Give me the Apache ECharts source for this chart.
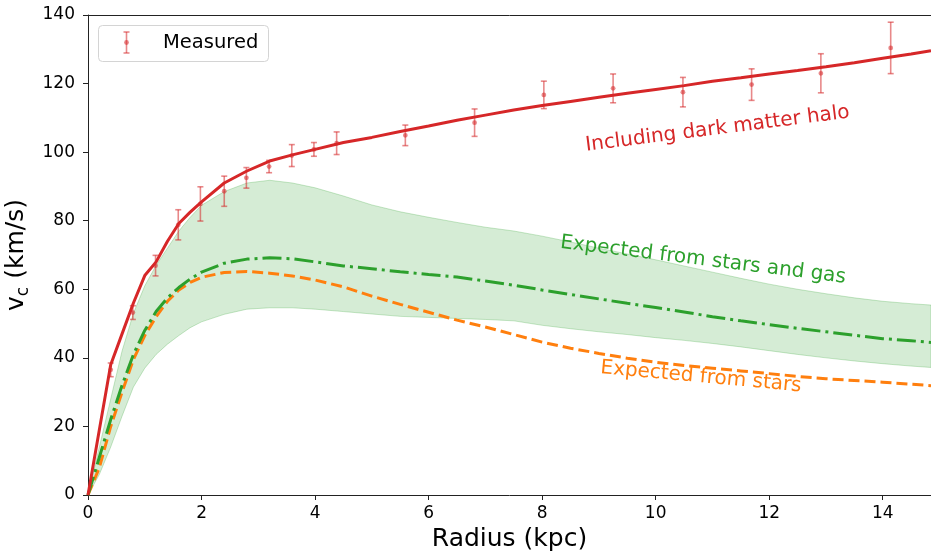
<!DOCTYPE html>
<html>
<head>
<meta charset="utf-8">
<script src="https://cdn.jsdelivr.net/npm/echarts@6/dist/echarts.min.js"></script>
<style>html,body{margin:0;padding:0;background:#fff;}#c{width:931px;height:556px;}</style>
</head>
<body>
<div id="c"></div>
<script>
// Radius grid (kpc) for model curves
var radius = [0, 0.2, 0.4, 0.6, 0.8, 1.0, 1.2, 1.4, 1.6, 1.8, 2.0, 2.4, 2.8, 3.2, 3.6, 4.0, 4.5, 5, 5.5, 6, 6.5, 7, 7.5, 8, 8.5, 9, 9.5, 10, 10.5, 11, 11.5, 12, 12.5, 13, 13.5, 14, 14.5, 14.85];
var vHalo = [0, 19, 38, 47, 56, 64, 68, 74, 79.2, 82.5, 85.5, 91, 94.5, 97.4, 99.2, 100.8, 102.8, 104.3, 106, 107.6, 109.3, 110.8, 112.3, 113.6, 114.8, 116, 117.2, 118.3, 119.4, 120.7, 121.7, 122.8, 123.8, 124.9, 126.1, 127.4, 128.6, 129.6];
var vStarsGas = [0, 11, 22, 32, 41, 48, 53.5, 57.5, 60.5, 63, 65, 67.6, 68.8, 69.2, 68.9, 68.0, 66.8, 66, 65.1, 64.3, 63.6, 62.4, 61.2, 59.8, 58.5, 57.2, 55.9, 54.7, 53.4, 52, 50.8, 49.7, 48.6, 47.6, 46.6, 45.6, 45, 44.5];
var vStars = [0, 8, 20, 30, 39.5, 46.5, 52, 56.5, 59.8, 62, 63.5, 64.9, 65.2, 64.7, 63.9, 62.7, 60.7, 58, 55.6, 53.3, 51, 49, 46.8, 44.6, 42.8, 41.3, 39.9, 38.7, 37.8, 37, 36.2, 35.4, 34.6, 33.9, 33.4, 32.9, 32.3, 31.9];
var bandUpper = [0, 14, 28, 42, 53, 61, 67, 72, 77, 81, 84.5, 88.5, 91, 91.8, 91, 89.6, 87.2, 84.6, 82.6, 81, 79.5, 78.1, 77, 75.5, 73.8, 72, 70.3, 68.6, 66.8, 65, 63.2, 61.5, 60, 58.7, 57.5, 56.5, 55.8, 55.4];
var bandLower = [0, 6, 14, 23, 31.5, 37, 41, 44, 46.5, 48.8, 50.5, 52.7, 54.2, 54.6, 54.6, 54.2, 53.5, 52.8, 52.1, 51.8, 51.5, 51.2, 50.8, 49.5, 48.5, 47.6, 46.8, 45.9, 45.1, 44.2, 43.2, 42.1, 41, 40, 39.1, 38.3, 37.6, 37.2];

// Measured points
var measR = [0.40, 0.79, 1.19, 1.59, 1.98, 2.40, 2.79, 3.19, 3.59, 3.98, 4.38, 5.59, 6.81, 8.03, 9.25, 10.48, 11.69, 12.91, 14.14];
var measV = [36.5, 53.2, 66.9, 78.8, 84.9, 88.6, 92.5, 95.8, 99.0, 100.8, 102.6, 104.9, 108.6, 116.7, 118.6, 117.5, 119.7, 123.0, 130.4];
var measErr = [2, 2, 3, 4.4, 5, 4.4, 3, 1.8, 3.2, 2, 3.3, 3, 4, 4, 4.2, 4.3, 4.6, 5.7, 7.5];

var xTicks = { min: 0, max: 14.85, interval: 2 };
var yTicks = { min: 0, max: 140, interval: 20 };

function pairs(xs, ys) { return xs.map(function (x, i) { return [x, ys[i]]; }); }

var FONT = 'DejaVu Sans';
var errColor = 'rgba(214,39,40,0.55)';

var chart = echarts.init(document.getElementById('c'), null, { renderer: 'canvas' });

var option = {
  animation: false,
  backgroundColor: '#fff',
  grid: { left: 88, right: 0, top: 15, bottom: 61, containLabel: false, outerBoundsMode: 'none' },
  xAxis: [{
    type: 'value', min: xTicks.min, max: xTicks.max, interval: xTicks.interval,
    name: 'Radius (kpc)', nameLocation: 'middle', nameGap: 31,
    nameTextStyle: { fontFamily: FONT, fontSize: 25, color: '#000' },
    axisLine: { show: true, onZero: false, lineStyle: { color: '#222', width: 1 } },
    axisTick: { show: true, inside: false, length: 5, lineStyle: { color: '#222' } },
    axisLabel: { fontFamily: FONT, fontSize: 17, color: '#000', margin: 10, showMaxLabel: false },
    splitLine: { show: false }
  }, {
    type: 'value', position: 'top', min: xTicks.min, max: xTicks.max, interval: xTicks.interval,
    axisLine: { show: true, onZero: false, lineStyle: { color: '#222', width: 1 } },
    axisTick: { show: false }, axisLabel: { show: false }, splitLine: { show: false }
  }],
  yAxis: [{
    type: 'value', min: yTicks.min, max: yTicks.max, interval: yTicks.interval,
    name: '{a|v}{b|c}{a| (km/s)}', nameLocation: 'middle', nameGap: 55, nameRotate: 90,
    nameTextStyle: {
      fontFamily: FONT, fontSize: 25, color: '#000',
      rich: {
        a: { fontFamily: FONT, fontSize: 25, color: '#000', lineHeight: 30, verticalAlign: 'middle' },
        b: { fontFamily: FONT, fontSize: 17, color: '#000', lineHeight: 18, verticalAlign: 'bottom' }
      }
    },
    axisLine: { show: true, onZero: false, lineStyle: { color: '#222', width: 1 } },
    axisTick: { show: true, inside: false, length: 5, lineStyle: { color: '#222' } },
    axisLabel: { fontFamily: FONT, fontSize: 17, color: '#000', margin: 13 },
    splitLine: { show: false }
  }, {
    type: 'value', position: 'right', min: yTicks.min, max: yTicks.max, interval: yTicks.interval,
    axisLine: { show: true, onZero: false, lineStyle: { color: '#222', width: 1 } },
    axisTick: { show: false }, axisLabel: { show: false }, splitLine: { show: false }
  }],
  series: [
    {
      name: 'band', type: 'custom', clip: true, z: 1,
      data: [[0, 0]],
      encode: { x: 0, y: 1 },
      renderItem: function (params, api) {
        var pts = [];
        for (var i = 0; i < radius.length; i++) pts.push(api.coord([radius[i], bandUpper[i]]));
        for (var j = radius.length - 1; j >= 0; j--) pts.push(api.coord([radius[j], bandLower[j]]));
        return {
          type: 'polygon',
          shape: { points: pts },
          style: { fill: 'rgba(44,160,44,0.2)', stroke: 'rgba(44,160,44,0.25)', lineWidth: 1 }
        };
      }
    },
    {
      name: 'Expected from stars', type: 'line', z: 3, showSymbol: false, smooth: false,
      data: pairs(radius, vStars),
      lineStyle: { color: '#ff7f0e', width: 3, type: [11, 5] }
    },
    {
      name: 'Expected from stars and gas', type: 'line', z: 3, showSymbol: false, smooth: false,
      data: pairs(radius, vStarsGas),
      lineStyle: { color: '#2ca02c', width: 3, type: [19, 5, 3, 5] }
    },
    {
      name: 'Measured', type: 'custom', z: 4, clip: false,
      data: measR.map(function (r, i) { return [r, measV[i], measErr[i]]; }),
      encode: { x: 0, y: 1 },
      renderItem: function (params, api) {
        var x = api.value(0), y = api.value(1), e = api.value(2);
        var top = api.coord([x, y + e]), bot = api.coord([x, y - e]), mid = api.coord([x, y]);
        var hw = 3;
        var ls = { stroke: errColor, lineWidth: 1.6 };
        return {
          type: 'group',
          children: [
            { type: 'line', shape: { x1: top[0], y1: top[1], x2: bot[0], y2: bot[1] }, style: ls },
            { type: 'line', shape: { x1: top[0] - hw, y1: top[1], x2: top[0] + hw, y2: top[1] }, style: ls },
            { type: 'line', shape: { x1: bot[0] - hw, y1: bot[1], x2: bot[0] + hw, y2: bot[1] }, style: ls },
            { type: 'circle', shape: { cx: mid[0], cy: mid[1], r: 2.4 }, style: { fill: errColor } }
          ]
        };
      }
    },
    {
      name: 'Including dark matter halo', type: 'line', z: 5, showSymbol: false, smooth: false,
      data: pairs(radius, vHalo),
      lineStyle: { color: '#d62728', width: 3 }
    }
  ],
  graphic: [
    { type: 'rect', left: 98, top: 25, z: 100, shape: { width: 170, height: 36, r: 4 },
      style: { fill: 'rgba(255,255,255,0.85)', stroke: '#d4d4d4', lineWidth: 1 } },
    { type: 'line', z: 101, shape: { x1: 126.5, y1: 32, x2: 126.5, y2: 53 }, style: { stroke: errColor, lineWidth: 1.6 } },
    { type: 'line', z: 101, shape: { x1: 123.5, y1: 32, x2: 129.5, y2: 32 }, style: { stroke: errColor, lineWidth: 1.6 } },
    { type: 'line', z: 101, shape: { x1: 123.5, y1: 53, x2: 129.5, y2: 53 }, style: { stroke: errColor, lineWidth: 1.6 } },
    { type: 'circle', z: 101, shape: { cx: 126.5, cy: 42.5, r: 2.4 }, style: { fill: errColor } },
    { type: 'text', z: 101, x: 163, y: 43,
      style: { text: 'Measured', fill: '#000', font: '19.5px "DejaVu Sans"', align: 'left', verticalAlign: 'middle', textAlign: 'left', textVerticalAlign: 'middle' } },
    { type: 'text', z: 50, x: 717.5, y: 129, rotation: 7.2 * Math.PI / 180,
      style: { text: 'Including dark matter halo', fill: '#d62728', font: '20px "DejaVu Sans"', align: 'center', verticalAlign: 'middle', textAlign: 'center', textVerticalAlign: 'middle' } },
    { type: 'text', z: 50, x: 703, y: 260, rotation: -7.0 * Math.PI / 180,
      style: { text: 'Expected from stars and gas', fill: '#2ca02c', font: '20px "DejaVu Sans"', align: 'center', verticalAlign: 'middle', textAlign: 'center', textVerticalAlign: 'middle' } },
    { type: 'text', z: 50, x: 701, y: 377, rotation: -5.2 * Math.PI / 180,
      style: { text: 'Expected from stars', fill: '#ff7f0e', font: '20px "DejaVu Sans"', align: 'center', verticalAlign: 'middle', textAlign: 'center', textVerticalAlign: 'middle' } }
  ]
};
chart.setOption(option);
</script>
</body>
</html>
